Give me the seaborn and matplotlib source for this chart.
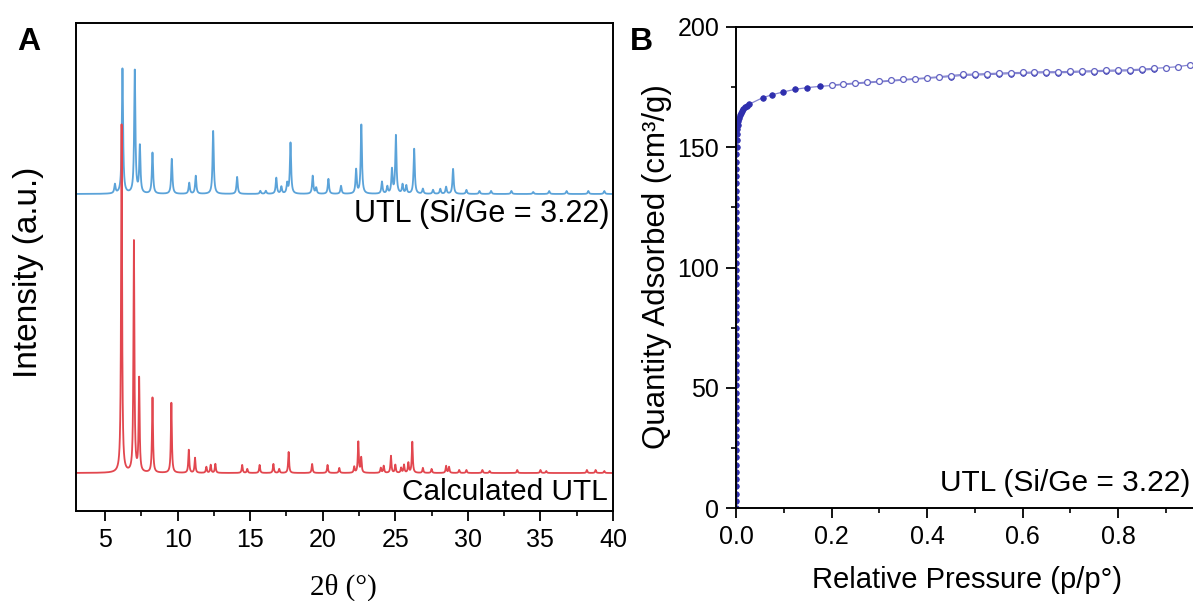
import numpy as np
import pandas as pd
import matplotlib
matplotlib.use("Agg")
import matplotlib.pyplot as plt
import seaborn as sns
from matplotlib.ticker import MultipleLocator, FixedLocator, FormatStrFormatter

# ---------------- Panel A: powder XRD (peak positions in 2theta, heights in a.u.) -------------
blue_pos = [5.68, 6.20, 7.05, 7.40, 8.27, 9.60, 10.80, 11.25, 12.45, 14.10, 15.70, 16.08,
            16.80, 17.15, 17.55, 17.78, 19.31, 19.55, 20.39, 21.26, 22.30, 22.66, 24.08,
            24.45, 24.77, 25.04, 25.50, 25.76, 26.30, 26.90, 27.60, 28.10, 28.50, 28.98,
            29.90, 30.80, 31.60, 33.00, 34.50, 35.60, 36.80, 38.30, 39.40]
blue_int = [9, 125, 123, 47, 41, 35, 11, 18, 63, 17, 3, 3,
            16, 7, 10, 51, 18, 6, 15, 8, 24, 69, 12,
            7, 24, 58, 9, 8, 45, 5, 4, 5, 7, 25,
            4, 3, 3, 3, 2, 3, 3, 3, 3]

red_pos = [6.14, 6.99, 7.35, 8.27, 9.57, 10.77, 11.20, 11.98, 12.28, 12.60, 14.45, 14.80,
           15.65, 16.60, 17.00, 17.65, 19.27, 20.33, 21.14, 22.17, 22.45, 22.65, 24.00,
           24.20, 24.70, 25.00, 25.40, 25.60, 25.90, 26.17, 26.90, 27.50, 28.50, 28.70,
           29.40, 29.90, 31.00, 31.50, 33.40, 35.00, 35.40, 38.20, 38.80, 39.40]
red_int = [348, 231, 93, 75, 70, 23, 15, 6, 8, 9, 8, 4,
           8, 9, 4, 21, 9, 8, 5, 6, 31, 15, 5,
           7, 17, 8, 5, 8, 10, 31, 5, 4, 7, 6,
           3, 3, 3, 2, 3, 3, 2, 3, 3, 2]

blue_offset = 317
red_offset = 38

# ---------------- Panel B: N2 isotherm (p/p0, cm3/g) ----------------
ads_p = [0.00002, 0.00004, 0.00006, 0.00008, 0.0001, 0.00012, 0.00014, 0.00016, 0.00018,
         0.0002, 0.00022, 0.00024, 0.00026, 0.00028, 0.0003, 0.00032, 0.00034, 0.00036,
         0.00038, 0.0004, 0.00042, 0.00044, 0.00046, 0.00048, 0.0005, 0.00052, 0.00054,
         0.00056, 0.00058, 0.0006, 0.00062, 0.00064, 0.00066, 0.00068, 0.0007, 0.00072,
         0.00074, 0.00076, 0.00078, 0.0008, 0.00082, 0.00084, 0.00086, 0.00088, 0.0009,
         0.00092, 0.00094, 0.00096, 0.00098, 0.001, 0.0011,
         0.0016, 0.0022, 0.003, 0.004, 0.0052, 0.0066, 0.0083, 0.0103, 0.0127, 0.0155,
         0.0188, 0.0225, 0.0265,
         0.056, 0.075, 0.099, 0.124, 0.149, 0.175,
         0.450, 0.475, 0.500, 0.525, 0.550, 0.575, 0.600, 0.625, 0.650, 0.675, 0.700,
         0.725, 0.750, 0.775, 0.800, 0.825, 0.850, 0.875]
ads_q = [0, 3, 6, 9, 12, 15, 18, 21, 24, 27, 30, 33, 36, 39, 42, 45, 48, 51, 54, 57, 60,
         63, 66, 69, 72, 75, 78, 81, 84, 87, 90, 93, 96, 99, 102, 105, 108, 111, 114, 117,
         120, 123, 126, 129, 132, 135, 138, 141, 144, 147, 150,
         153, 155.5, 157.6, 159.4, 160.9, 162.2, 163.3, 164.3, 165.2, 166.0,
         166.7, 167.3, 167.8,
         170.6, 171.8, 173.0, 174.1, 174.8, 175.3,
         179.4, 179.9, 180.0, 180.2, 180.4, 180.6, 180.7, 180.9, 181.0, 181.0, 181.1,
         181.3, 181.4, 181.6, 181.7, 181.8, 182.1, 182.4]

des_p = [0.200, 0.225, 0.250, 0.275, 0.300, 0.325, 0.350, 0.375, 0.400, 0.425, 0.450,
         0.475, 0.500, 0.525, 0.550, 0.575, 0.600, 0.625, 0.650, 0.675, 0.700, 0.725,
         0.750, 0.775, 0.800, 0.825, 0.850, 0.875, 0.900, 0.925, 0.950, 0.975, 0.990]
des_q = [175.8, 176.3, 176.7, 177.1, 177.4, 177.8, 178.2, 178.5, 178.9, 179.3, 179.8,
         180.3, 180.4, 180.6, 180.8, 181.0, 181.1, 181.3, 181.4, 181.4, 181.5, 181.7,
         181.8, 182.0, 182.1, 182.2, 182.5, 182.8, 183.1, 183.5, 184.2, 185.0, 186.0]

p_ticks = [0.0, 0.2, 0.4, 0.6, 0.8]


def lorentz_pattern(grid, positions, heights, fwhm):
    half = fwhm / 2.0
    out = np.zeros_like(grid)
    for p, h in zip(positions, heights):
        out += h / (1.0 + ((grid - p) / half) ** 2)
    return out


two_theta = np.linspace(3, 40, 7401)
xrd = pd.DataFrame({
    "two_theta": two_theta,
    "measured": lorentz_pattern(two_theta, blue_pos, blue_int, 0.10) + blue_offset,
    "calculated": lorentz_pattern(two_theta, red_pos, red_int, 0.08) + red_offset,
})
ads = pd.DataFrame({"p": ads_p, "q": ads_q})
des = pd.DataFrame({"p": des_p, "q": des_q})

sns.set_theme(style="ticks")
plt.rcParams["font.family"] = ["Liberation Sans", "DejaVu Sans"]
for key in ("text.color", "axes.labelcolor", "xtick.color", "ytick.color", "axes.edgecolor"):
    plt.rcParams[key] = "black"

W, H = 1193, 601
fig = plt.figure(figsize=(W / 100, H / 100), dpi=100)
axA = fig.add_axes([76 / W, (H - 511) / H, 537 / W, 488 / H])
axB = fig.add_axes([736 / W, (H - 508) / H, 477.5 / W, 481 / H])

tick_fs = 18

# ---- Panel A ----
sns.lineplot(data=xrd, x="two_theta", y="measured", ax=axA, color="#5ba3d9",
             lw=1.3, estimator=None)
sns.lineplot(data=xrd, x="two_theta", y="calculated", ax=axA, color="#e2474f",
             lw=1.3, estimator=None)
axA.set_xlim(3, 40)
axA.set_ylim(0, 488)
axA.set_yticks([])
axA.xaxis.set_major_locator(MultipleLocator(5))
axA.xaxis.set_minor_locator(MultipleLocator(2.5))
axA.tick_params(axis="x", which="major", length=7, width=1.3, labelsize=tick_fs, pad=5)
axA.tick_params(axis="x", which="minor", length=3.5, width=1.2)
for s in axA.spines.values():
    s.set_linewidth(1.4)
axA.set_xlabel("2θ (°)", fontsize=21, family=["Liberation Serif", "DejaVu Serif"])
axA.xaxis.set_label_coords((343 - 76) / 537, (511 - 587) / 488)
axA.xaxis.label.set_va("center")
axA.set_ylabel("Intensity (a.u.)", fontsize=24)
axA.yaxis.set_label_coords((29 - 76) / 537, (511 - 272) / 488)
axA.yaxis.label.set_va("center")
axA.text((609 - 76) / 537, (511 - 214) / 488, "UTL (Si/Ge = 3.22)", transform=axA.transAxes,
         ha="right", va="center", fontsize=22)
axA.text((608 - 76) / 537, (511 - 492) / 488, "Calculated UTL", transform=axA.transAxes,
         ha="right", va="center", fontsize=21.5)

# ---- Panel B ----
sns.lineplot(data=ads, x="p", y="q", ax=axB, estimator=None, sort=False,
             color="#8585d0", lw=0.9, marker="o", markersize=4.0,
             markerfacecolor="#2f2fae", markeredgecolor="#2f2fae", markeredgewidth=0.6)
sns.lineplot(data=des, x="p", y="q", ax=axB, estimator=None, sort=False,
             color="#8585d0", lw=0.9, marker="o", markersize=4.2,
             markerfacecolor="white", markeredgecolor="#6262c2", markeredgewidth=0.9)
axB.set_xlim(0, 1.0)
axB.set_ylim(0, 200)
axB.xaxis.set_major_locator(FixedLocator(p_ticks))
axB.xaxis.set_minor_locator(MultipleLocator(0.1))
axB.yaxis.set_major_locator(MultipleLocator(50))
axB.yaxis.set_minor_locator(MultipleLocator(25))
axB.xaxis.set_major_formatter(FormatStrFormatter("%.1f"))
axB.tick_params(which="major", length=7, width=1.3, labelsize=tick_fs, pad=5)
axB.tick_params(which="minor", length=3.5, width=1.2)
for s in axB.spines.values():
    s.set_linewidth(1.4)
axB.set_xlabel("Relative Pressure (p/p°)", fontsize=21)
axB.xaxis.set_label_coords((967 - 736) / 477.5, (508 - 580) / 481)
axB.xaxis.label.set_va("center")
axB.set_ylabel("Quantity Adsorbed (cm³/g)", fontsize=22.5)
axB.yaxis.set_label_coords((657 - 736) / 477.5, (508 - 267) / 481)
axB.yaxis.label.set_va("center")
axB.text((1190 - 736) / 477.5, (508 - 483) / 481, "UTL (Si/Ge = 3.22)",
         transform=axB.transAxes, ha="right", va="center", fontsize=21.5)

# panel letters
fig.text(29 / W, 1 - 42 / H, "A", fontsize=23, fontweight="bold", ha="center", va="center")
fig.text(641 / W, 1 - 42 / H, "B", fontsize=23, fontweight="bold", ha="center", va="center")

fig.savefig("out.png", dpi=100)
